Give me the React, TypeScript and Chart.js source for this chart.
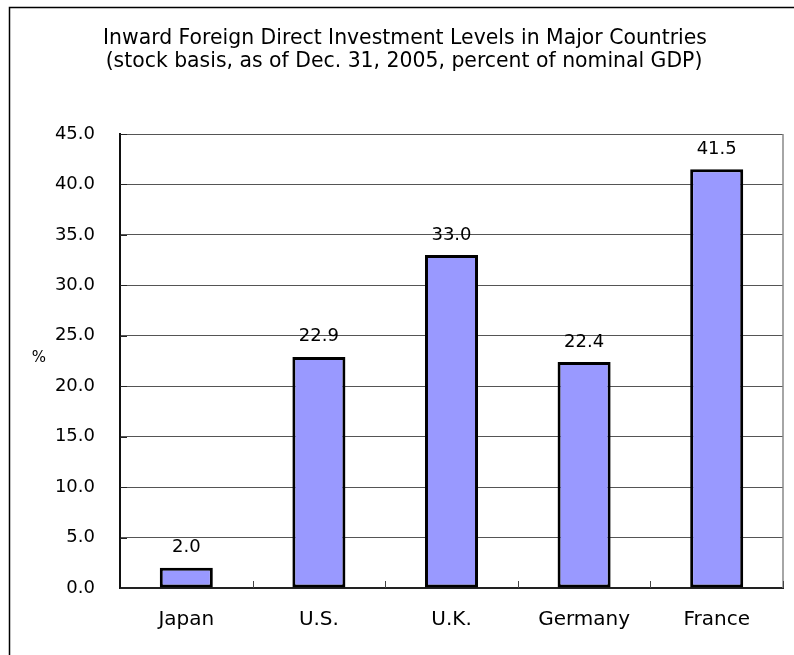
import React, { useEffect, useRef } from "react";
import { Chart, registerables } from "chart.js";

Chart.register(...registerables);

const categories = ["Japan", "U.S.", "U.K.", "Germany", "France"];
const values = [2.0, 22.9, 33.0, 22.4, 41.5];
const titleLines = [
  "Inward Foreign Direct Investment Levels in Major Countries",
  "(stock basis, as of Dec. 31, 2005, percent of nominal GDP)",
];
const yAxisLabel = "%";
const yMin = 0;
const yMax = 45;
const yStep = 5;

const FONT = "'DejaVu Sans', sans-serif";

const decorPlugin = {
  id: "decor",
  afterDraw(chart: any) {
    const ctx = chart.ctx;
    const area = chart.chartArea;
    const ys = chart.scales.y;
    ctx.save();
    // outer frame (left & top visible)
    ctx.strokeStyle = "#000";
    ctx.lineWidth = 1.5;
    ctx.beginPath();
    ctx.moveTo(9.5, chart.height + 5);
    ctx.lineTo(9.5, 7.5);
    ctx.lineTo(chart.width + 5, 7.5);
    ctx.stroke();

    // title
    ctx.fillStyle = "#000";
    ctx.font = "20.4px " + FONT;
    ctx.textAlign = "center";
    ctx.textBaseline = "middle";
    ctx.fillText(titleLines[0], 405, 39);
    ctx.fillText(titleLines[1], 404, 62);

    // y axis label
    ctx.font = "15px " + FONT;
    ctx.fillText(yAxisLabel, 39, 358);

    // right border of plot
    ctx.strokeStyle = "#888";
    ctx.lineWidth = 1.5;
    ctx.beginPath();
    ctx.moveTo(area.right, area.top);
    ctx.lineTo(area.right, area.bottom);
    ctx.stroke();

    // x inward ticks at category boundaries
    ctx.strokeStyle = "#444";
    ctx.lineWidth = 1;
    const n = categories.length;
    const cw = (area.right - area.left) / n;
    ctx.beginPath();
    for (let i = 1; i <= n; i++) {
      const x = Math.round(area.left + i * cw) + 0.5;
      ctx.moveTo(x, area.bottom);
      ctx.lineTo(x, area.bottom - 7);
    }
    ctx.stroke();

    // y inward ticks
    ctx.strokeStyle = "#222";
    ctx.beginPath();
    ys.ticks.forEach((t: any) => {
      const y = Math.round(ys.getPixelForValue(t.value)) + 0.5;
      ctx.moveTo(area.left, y);
      ctx.lineTo(area.left + 7, y);
    });
    ctx.stroke();

    // data labels
    ctx.fillStyle = "#000";
    ctx.font = "18px " + FONT;
    ctx.textAlign = "center";
    ctx.textBaseline = "alphabetic";
    const meta = chart.getDatasetMeta(0);
    meta.data.forEach((bar: any, i: number) => {
      ctx.fillText(values[i].toFixed(1), bar.x, bar.y - 15.5);
    });
    ctx.restore();
  },
};

export default function App() {
  const ref = useRef<HTMLCanvasElement | null>(null);
  useEffect(() => {
    if (!ref.current) return;
    const chart = new Chart(ref.current, {
      type: "bar",
      data: {
        labels: categories,
        datasets: [
          {
            data: values,
            backgroundColor: "#9999FF",
            borderColor: "#000",
            borderWidth: 3,
            borderSkipped: false,
            barPercentage: 0.4,
            categoryPercentage: 1.0,
          },
        ],
      },
      options: {
        animation: false,
        responsive: false,
        maintainAspectRatio: false,
        devicePixelRatio: 1,
        layout: { padding: { left: 0, right: 11, top: 134, bottom: 0 } },
        plugins: {
          legend: { display: false },
          title: { display: false },
          tooltip: { enabled: false },
        },
        scales: {
          x: {
            grid: { display: false, drawTicks: false },
            border: { color: "#222", width: 2 },
            ticks: {
              padding: 20,
              color: "#000",
              font: { family: FONT, size: 20 },
            },
            afterFit(scale: any) {
              scale.height = 67;
            },
          },
          y: {
            min: yMin,
            max: yMax,
            grid: { color: "#555", lineWidth: 1, drawTicks: false },
            border: { color: "#111", width: 2 },
            ticks: {
              stepSize: yStep,
              padding: 25,
              color: "#000",
              font: { family: FONT, size: 18 },
              callback: (v: any) => Number(v).toFixed(1),
            },
            afterFit(scale: any) {
              scale.width = 120;
            },
          },
        },
      },
      plugins: [decorPlugin],
    });
    return () => chart.destroy();
  }, []);
  return (
    <div style={{ position: "fixed", left: 0, top: 0, width: 794, height: 655, background: "#fff" }}>
      <canvas ref={ref} width={794} height={655} style={{ width: 794, height: 655 }} />
    </div>
  );
}
